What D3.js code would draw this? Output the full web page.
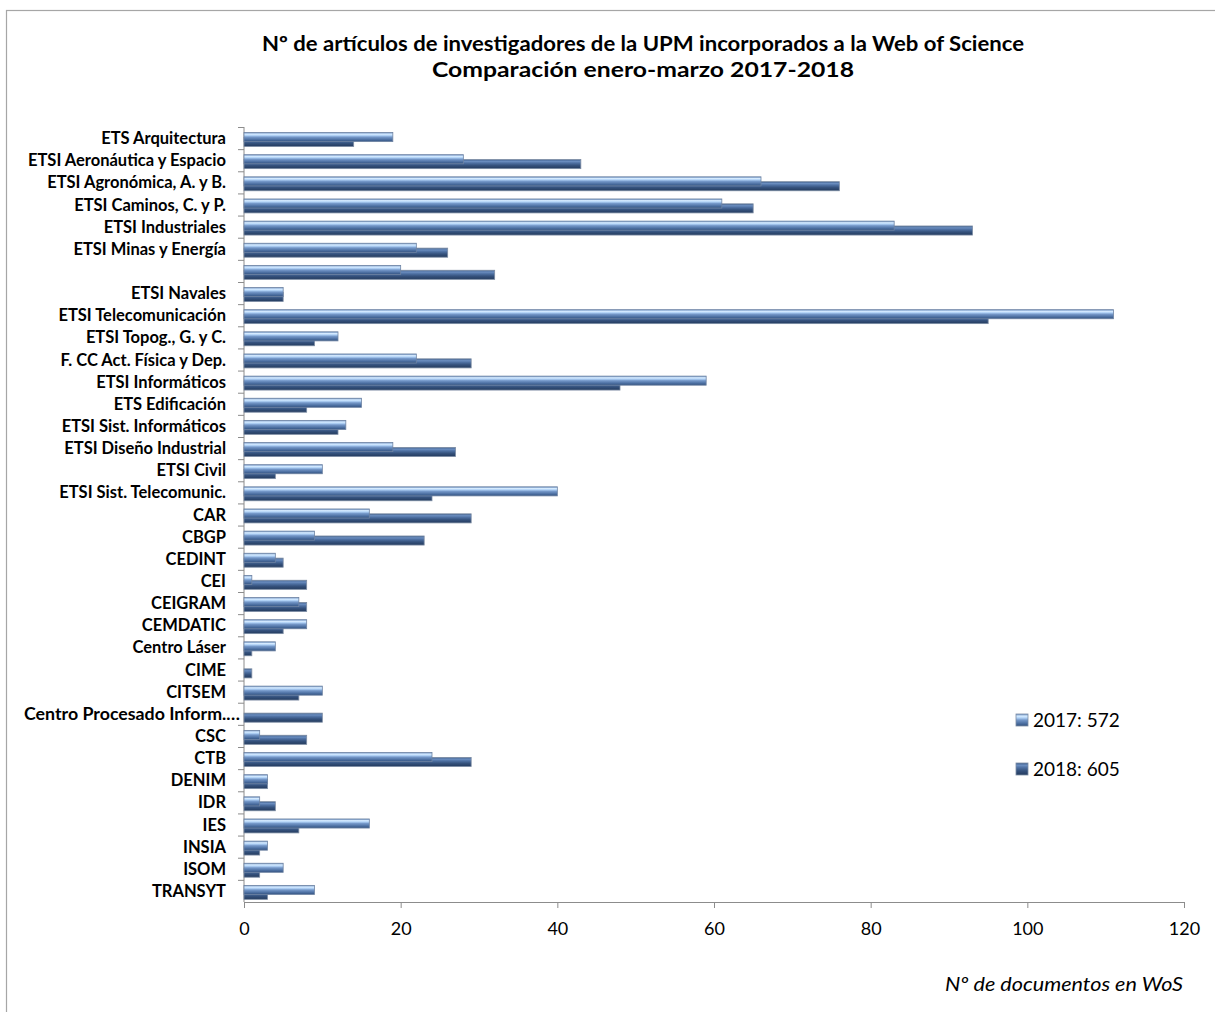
<!DOCTYPE html>
<html>
<head>
<meta charset="utf-8">
<script src="https://cdn.jsdelivr.net/npm/d3@7"></script>
<style>
  body { margin: 0; background: #fff; }
  svg { display: block; font-family: Lato, "Open Sans", sans-serif; }
</style>
</head>
<body>
<div id="chart"></div>
<script>
// Category labels (top to bottom), the 7th one has no label in the original
const categories = [
    'ETS Arquitectura ', 'ETSI Aeronáutica y Espacio', 'ETSI Agronómica, A. y B.',
    'ETSI Caminos, C. y P.', 'ETSI Industriales ', 'ETSI Minas y Energía', '',
    'ETSI Navales', 'ETSI Telecomunicación', 'ETSI Topog., G. y C.',
    'F. CC Act. Física y Dep.', 'ETSI Informáticos', 'ETS Edificación ',
    'ETSI Sist. Informáticos', 'ETSI Diseño Industrial', 'ETSI Civil ',
    'ETSI Sist. Telecomunic.', 'CAR', 'CBGP', 'CEDINT', 'CEI ', 'CEIGRAM',
    'CEMDATIC', 'Centro Láser', 'CIME', 'CITSEM', 'Centro Procesado Inform.…',
    'CSC', 'CTB', 'DENIM', 'IDR', 'IES', 'INSIA', 'ISOM', 'TRANSYT'
];
const values2017 = [19, 28, 66, 61, 83, 22, 20, 5, 111, 12, 22, 59, 15, 13, 19, 10, 40, 16, 9, 4, 1, 7, 8, 4, 0, 10, 0, 2, 24, 3, 2, 16, 3, 5, 9];
const values2018 = [14, 43, 76, 65, 93, 26, 32, 5, 95, 9, 29, 48, 8, 12, 27, 4, 24, 29, 23, 5, 8, 8, 5, 1, 1, 7, 10, 8, 29, 3, 4, 7, 2, 2, 3];
const seriesNames = ['2017: 572', '2018: 605'];
const xTicks = [0, 20, 40, 60, 80, 100, 120];

const titleLines = [
    'Nº de artículos de investigadores de la UPM incorporados a la Web of Science',
    'Comparación enero-marzo 2017-2018'
];
const axisTitle = 'Nº de documentos en WoS';

const width = 1215, height = 1012;
const margin = { top: 127, left: 244, right: 34, bottom: 110 };

const svg = d3.select('#chart').append('svg')
    .attr('width', width)
    .attr('height', height);

// gradients imitating the excel bevelled bars
const defs = svg.append('defs');
function addGradient(id, stops) {
    const g = defs.append('linearGradient')
        .attr('id', id)
        .attr('x1', 0).attr('y1', 0).attr('x2', 0).attr('y2', 1);
    stops.forEach(s => g.append('stop').attr('offset', s[0]).attr('stop-color', s[1]));
}
addGradient('g2017', [[0, '#6b8fc2'], [0.18, '#d6ebff'], [0.32, '#b2d3f7'], [0.5, '#7598c9'], [0.8, '#4a6d9f'], [1, '#34527e']]);
addGradient('g2018', [[0, '#40608f'], [0.2, '#6a8dbf'], [0.38, '#4f71a3'], [0.65, '#35527d'], [1, '#243b5e']]);

// outer border
svg.append('rect')
    .attr('x', 6.5).attr('y', 10.5)
    .attr('width', width).attr('height', height)
    .attr('fill', 'none')
    .attr('stroke', '#a6a6a6')
    .attr('stroke-width', 1.2);

// title (calibri is narrow, so stretch to the original widths)
const titleWidths = [762, 422];
svg.append('g').selectAll('text')
    .data(titleLines)
    .enter()
    .append('text')
    .attr('x', 643)
    .attr('y', (d, i) => 51 + i * 26)
    .attr('text-anchor', 'middle')
    .attr('font-weight', 'bold')
    .attr('font-size', 20)
    .attr('textLength', (d, i) => titleWidths[i])
    .attr('lengthAdjust', 'spacingAndGlyphs')
    .attr('fill', '#000')
    .text(d => d);

// scales
const x = d3.scaleLinear()
    .domain([0, 120])
    .range([margin.left, width - margin.right + 3]);

const y = d3.scaleBand()
    .domain(d3.range(categories.length))
    .range([margin.top, height - margin.bottom])
    .paddingInner(0)
    .paddingOuter(0);

const bw = y.bandwidth();
const barH = bw * 0.41;

// x axis
const xAxis = svg.append('g')
    .attr('transform', `translate(0,${height - margin.bottom})`)
    .call(d3.axisBottom(x).tickValues(xTicks).tickSize(6).tickPadding(14));
xAxis.select('.domain').attr('stroke', '#8c8c8c');
xAxis.selectAll('.tick line').attr('stroke', '#8c8c8c');
xAxis.selectAll('.tick text')
    .attr('font-family', 'Lato, sans-serif')
    .attr('font-size', 18)
    .attr('fill', '#000');

// y axis: ticks at band boundaries
const yLine = svg.append('g');
yLine.append('line')
    .attr('x1', margin.left).attr('x2', margin.left)
    .attr('y1', margin.top).attr('y2', height - margin.bottom)
    .attr('stroke', '#8c8c8c');
yLine.selectAll('line.tk')
    .data(d3.range(categories.length))
    .enter()
    .append('line')
    .attr('class', 'tk')
    .attr('x1', margin.left - 6).attr('x2', margin.left)
    .attr('y1', d => y(d) + 0.5).attr('y2', d => y(d) + 0.5)
    .attr('stroke', '#8c8c8c');

// category labels; the truncated one overflows to the left edge as in excel
const labels = svg.append('g').selectAll('text')
    .data(categories)
    .enter()
    .append('text')
    .attr('x', d => d.endsWith('…') ? 24 : 226)
    .attr('y', (d, i) => y(i) + bw / 2 + 6)
    .attr('text-anchor', d => d.endsWith('…') ? 'start' : 'end')
    .attr('font-weight', 'bold')
    .attr('font-size', 16.5)
    .attr('fill', '#000')
    .text(d => d.trimEnd());
labels.filter(d => d.endsWith('…'))
    .attr('textLength', 216)
    .attr('lengthAdjust', 'spacingAndGlyphs');

// bars: 2018 first, 2017 drawn over it
const bars = svg.append('g');
bars.selectAll('rect.b2018')
    .data(values2018)
    .enter()
    .append('rect')
    .attr('class', 'b2018')
    .attr('x', x(0))
    .attr('y', (d, i) => y(i) + bw * 0.47)
    .attr('width', d => x(d) - x(0))
    .attr('height', barH)
    .attr('fill', 'url(#g2018)')
    .attr('stroke', d => d > 0 ? '#7c8ca3' : 'none')
    .attr('stroke-width', 0.8);

bars.selectAll('rect.b2017')
    .data(values2017)
    .enter()
    .append('rect')
    .attr('class', 'b2017')
    .attr('x', x(0))
    .attr('y', (d, i) => y(i) + bw * 0.25)
    .attr('width', d => x(d) - x(0))
    .attr('height', barH)
    .attr('fill', 'url(#g2017)')
    .attr('stroke', d => d > 0 ? '#6f84a3' : 'none')
    .attr('stroke-width', 0.8);

// axis title
svg.append('text')
    .attr('x', 1183)
    .attr('y', 991)
    .attr('text-anchor', 'end')
    .attr('font-style', 'italic')
    .attr('font-size', 19)
    .attr('textLength', 238)
    .attr('lengthAdjust', 'spacingAndGlyphs')
    .attr('fill', '#000')
    .text(axisTitle);

// legend
const legend = svg.append('g').selectAll('g')
    .data(seriesNames)
    .enter()
    .append('g')
    .attr('transform', (d, i) => `translate(1016,${714 + i * 49})`);
legend.append('rect')
    .attr('width', 12).attr('height', 12)
    .attr('fill', (d, i) => i === 0 ? 'url(#g2017)' : 'url(#g2018)')
    .attr('stroke', '#7c8ca3')
    .attr('stroke-width', 0.8);
legend.append('text')
    .attr('x', 17)
    .attr('y', 13)
    .attr('font-size', 19)
    .attr('fill', '#000')
    .text(d => d);
</script>
</body>
</html>
